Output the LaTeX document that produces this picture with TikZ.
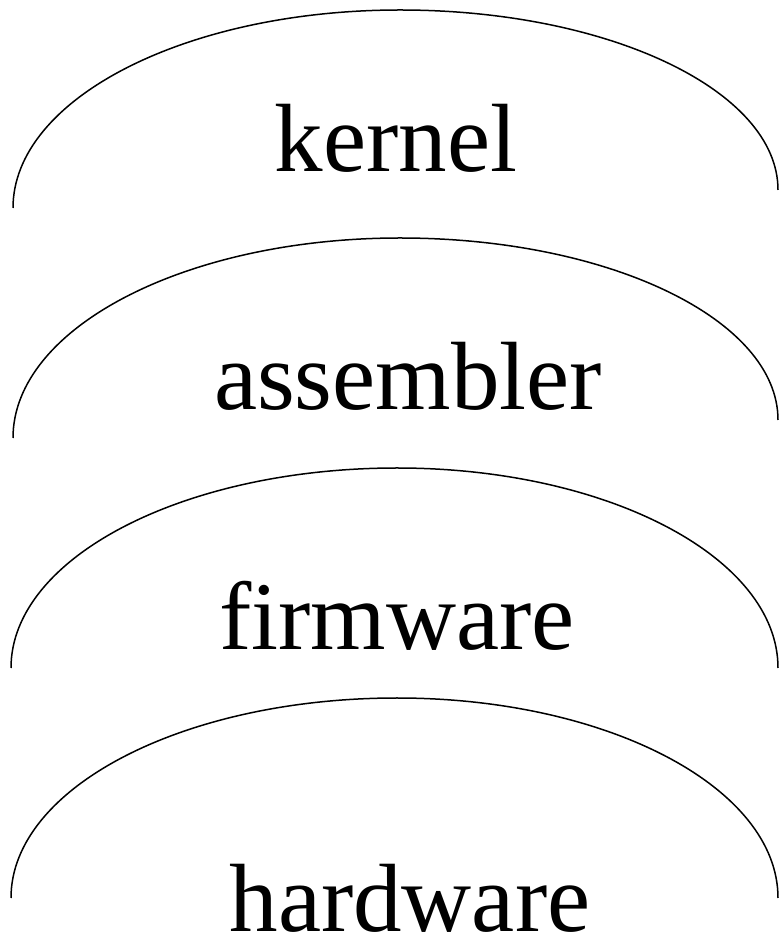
\documentclass[tikz,border=0pt]{standalone}
\usepackage{fontspec}
\setmainfont{Liberation Serif}
\usepackage{tikz}

\begin{document}
\begin{tikzpicture}[x=1pt, y=1pt,
    dome/.style={line width=1.5pt, black},
    layername/.style={anchor=base, inner sep=0pt, font=\fontsize{97}{110}\selectfont}]
\useasboundingbox (0,0) rectangle (779,935);
%% domes
\draw[dome] (13,727) arc[start angle=180, end angle=90, x radius=387, y radius=198]
    arc[start angle=90, end angle=0, x radius=378, y radius=180];
\draw[dome] (13,497) arc[start angle=180, end angle=90, x radius=387, y radius=200]
    arc[start angle=90, end angle=0, x radius=378, y radius=182];
\draw[dome] (11,267) arc[start angle=180, end angle=90, x radius=386, y radius=200]
    arc[start angle=90, end angle=0, x radius=381, y radius=200];
\draw[dome] (11,37) arc[start angle=180, end angle=90, x radius=386, y radius=200]
    arc[start angle=90, end angle=0, x radius=381, y radius=200];
%% names
\node[layername] (kernel) at (396,763) {kernel};
\node[layername] (assembler) at (408,525) {assembler};
\node[layername] (firmware) at (397,285) {firmware};
\node[layername] (hardware) at (410,3) {hardware};
\end{tikzpicture}
\end{document}
